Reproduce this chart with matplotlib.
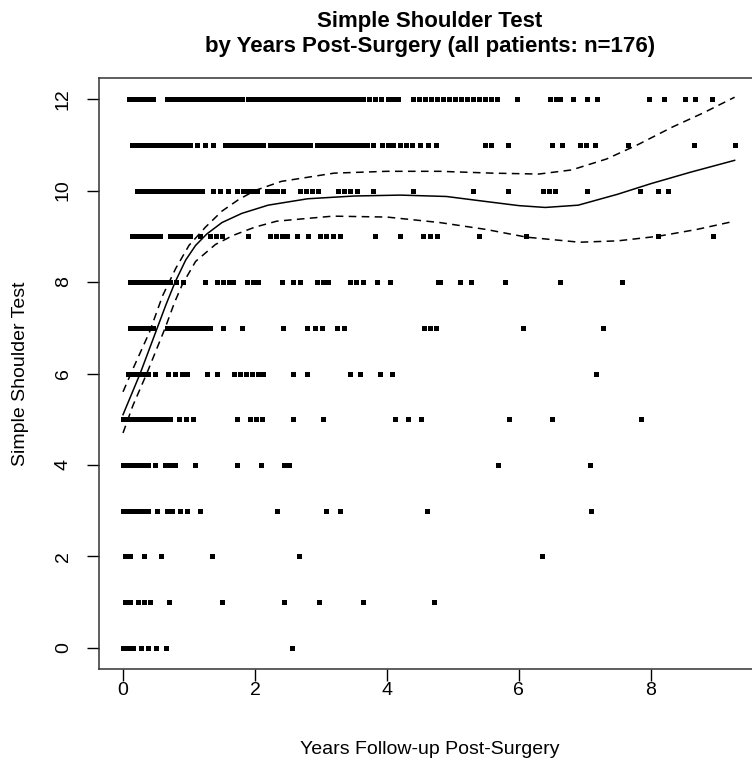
import matplotlib
matplotlib.use("Agg")
import matplotlib.pyplot as plt

plt.rcParams['font.family'] = ['Liberation Sans', 'DejaVu Sans']

# years follow-up for each Simple Shoulder Test score
sst_x = {
    12: [0.09, 0.17, 0.24, 0.32, 0.39, 0.45,
         0.67, 0.74, 0.82, 0.89, 0.97, 1.05, 1.12, 1.20, 1.27, 1.35, 1.42, 1.50, 1.58, 1.65, 1.73, 1.80,
         1.89, 1.97, 2.05, 2.12, 2.20, 2.27, 2.35, 2.42, 2.50, 2.58, 2.65, 2.73, 2.80, 2.88, 2.95, 3.03,
         3.11, 3.18, 3.26, 3.33, 3.41, 3.48, 3.56,
         3.64, 3.73, 3.82, 3.91, 4.02, 4.09, 4.17,
         4.39, 4.48, 4.58, 4.67, 4.76, 4.85, 4.94, 5.03, 5.12, 5.21, 5.30, 5.39, 5.48, 5.58, 5.67,
         5.97, 6.47, 6.56, 6.62, 6.82, 7.03, 7.18, 7.97, 8.20, 8.52, 8.67, 8.92],
    11: [0.14, 0.21, 0.29, 0.36, 0.44, 0.52, 0.59, 0.67, 0.74, 0.82, 0.89, 0.97, 1.02,
         1.12, 1.24, 1.36,
         1.55, 1.62, 1.70, 1.77, 1.85, 1.92, 2.00, 2.08, 2.12,
         2.23, 2.30, 2.38, 2.45, 2.53, 2.61, 2.68, 2.76, 2.83,
         2.94, 3.02, 3.09, 3.17, 3.24, 3.32, 3.39, 3.47, 3.55, 3.62,
         3.70, 3.79, 3.92, 4.02, 4.09, 4.20, 4.29, 4.38, 4.50, 4.62, 4.74,
         5.48, 5.58, 5.83, 6.50, 6.65, 6.92, 7.02, 7.15, 7.65, 8.65, 9.27],
    10: [0.21, 0.29, 0.36, 0.44, 0.52, 0.59, 0.67, 0.74, 0.82, 0.89, 0.97, 1.05, 1.12,
         1.20, 1.36, 1.47, 1.59, 1.73, 1.82, 1.89, 1.95, 2.03,
         2.18, 2.26, 2.33, 2.42, 2.68, 2.77, 2.86, 2.95,
         3.26, 3.35, 3.44, 3.55, 3.79, 4.39,
         5.30, 5.83, 6.36, 6.45, 6.55, 7.03, 7.83, 8.11, 8.26],
    9: [0.14, 0.21, 0.29, 0.36, 0.41, 0.48, 0.56,
        0.71, 0.79, 0.86, 0.94, 1.02, 1.17, 1.32, 1.41, 1.50,
        1.89, 2.23, 2.32, 2.41, 2.48, 2.64, 2.80, 2.98, 3.08, 3.18, 3.29,
        3.82, 4.20, 4.55, 4.65, 4.76, 5.39, 6.11, 8.11, 8.94],
    8: [0.11, 0.18, 0.26, 0.33, 0.41, 0.48, 0.56, 0.64, 0.71,
        0.80, 0.91, 1.24, 1.42, 1.52, 1.61, 1.67, 1.88, 1.97, 2.05,
        2.41, 2.58, 2.68, 2.94, 3.03, 3.11, 3.44, 3.53, 3.64, 3.85, 4.05, 4.77,
        4.80, 5.11, 5.27, 5.79, 6.62, 7.56],
    7: [0.11, 0.17, 0.23, 0.29, 0.35, 0.41, 0.45,
        0.67, 0.73, 0.79, 0.85, 0.91, 0.97, 1.03, 1.09, 1.17, 1.24, 1.32,
        1.52, 1.80, 2.42, 2.79, 2.91, 3.02, 3.24, 3.35, 4.56, 4.65, 4.74,
        6.06, 7.27],
    6: [0.08, 0.15, 0.23, 0.30, 0.38, 0.48, 0.68, 0.79, 0.89, 0.97,
        1.27, 1.42, 1.68, 1.77, 1.86, 1.95, 2.05, 2.12,
        2.58, 2.79, 3.44, 3.59, 3.89, 4.08, 7.17],
    5: [0.00, 0.06, 0.14, 0.21, 0.29, 0.36, 0.44, 0.52, 0.59, 0.67, 0.71,
        0.85, 0.95, 1.06, 1.73, 1.92, 2.02, 2.11, 2.58, 3.03, 4.12, 4.32, 4.52,
        5.85, 6.50, 7.85],
    4: [0.00, 0.08, 0.15, 0.23, 0.30, 0.38, 0.48, 0.64, 0.71, 0.79, 1.09,
        1.73, 2.09, 2.44, 2.52, 5.68, 7.08],
    3: [0.00, 0.08, 0.15, 0.23, 0.30, 0.38, 0.52, 0.67, 0.74, 0.86, 0.97, 1.17,
        2.33, 3.08, 3.29, 4.61, 7.09],
    2: [0.03, 0.11, 0.32, 0.58, 1.35, 2.67, 6.35],
    1: [0.03, 0.11, 0.23, 0.32, 0.41, 0.70, 1.50, 2.44, 2.97, 3.64, 4.71],
    0: [0.00, 0.08, 0.15, 0.27, 0.38, 0.50, 0.65, 2.56],
}

# smooth fit and its confidence band
fit_x = [0.0, 0.13, 0.26, 0.39, 0.52, 0.65, 0.79, 0.95, 1.1, 1.27, 1.5, 1.8, 2.2, 2.8,
         3.5, 4.2, 4.9, 5.5, 6.0, 6.4, 6.9, 7.5, 8.0, 8.6, 9.27]
fit_y = [5.1, 5.55, 6.0, 6.5, 7.0, 7.5, 8.0, 8.48, 8.8, 9.05, 9.3, 9.5, 9.68, 9.82,
         9.88, 9.9, 9.87, 9.76, 9.67, 9.63, 9.68, 9.92, 10.15, 10.4, 10.66]
upper_x = [0.0, 0.15, 0.4, 0.6, 0.8, 1.0, 1.25, 1.5, 1.75, 2.0, 2.4, 3.2, 4.0, 4.8,
           5.6, 6.3, 6.8, 7.33, 7.8, 8.33, 8.8, 9.27]
upper_y = [5.6, 6.1, 6.9, 7.7, 8.3, 8.8, 9.2, 9.55, 9.8, 10.0, 10.2, 10.38, 10.42, 10.42,
           10.38, 10.36, 10.45, 10.69, 11.0, 11.39, 11.7, 12.04]
lower_x = [0.0, 0.15, 0.36, 0.64, 0.78, 0.9, 1.1, 1.4, 1.67, 2.0, 2.33, 3.18, 4.0, 4.8,
           5.5, 6.12, 6.92, 7.5, 8.11, 8.7, 9.27]
lower_y = [4.7, 5.3, 6.0, 7.0, 7.55, 7.95, 8.45, 8.82, 9.02, 9.2, 9.33, 9.44, 9.42, 9.3,
           9.15, 8.98, 8.87, 8.9, 9.0, 9.15, 9.33]

fig = plt.figure(figsize=(7.52, 7.61), dpi=100)
ax = fig.add_axes([99 / 752, 92 / 761, 662 / 752, 591 / 761])

for score, xs in sst_x.items():
    ax.plot(xs, [score] * len(xs), linestyle='none', marker='s', markersize=3.6,
            color='black', markeredgewidth=0)

ax.plot(fit_x, fit_y, color='black', linewidth=1.1)
ax.plot(upper_x, upper_y, color='black', linewidth=1.1, linestyle=(0, (5, 3.5)))
ax.plot(lower_x, lower_y, color='black', linewidth=1.1, linestyle=(0, (5, 3.5)))

ax.set_xlim(-0.364, 9.67)
ax.set_ylim(-0.46, 12.46)
ax.set_xticks([0, 2, 4, 6, 8])
ax.set_yticks([0, 2, 4, 6, 8, 10, 12])
ax.tick_params(length=8.5, width=1, labelsize=14, pad=1)
ax.tick_params(axis='y', labelrotation=90, pad=11)
for lab in ax.get_yticklabels():
    lab.set_va('center')
for sp in ax.spines.values():
    sp.set_linewidth(1.1)
    sp.set_color('#333333')

ax.set_xlabel("Years Follow-up Post-Surgery", fontsize=14, labelpad=30)
ax.set_ylabel("Simple Shoulder Test", fontsize=14, labelpad=19)
ax.set_title("Simple Shoulder Test\nby Years Post-Surgery (all patients: n=176)",
             fontsize=16, fontweight='bold', pad=19, linespacing=1.2)

fig.savefig("out.png", dpi=100)
